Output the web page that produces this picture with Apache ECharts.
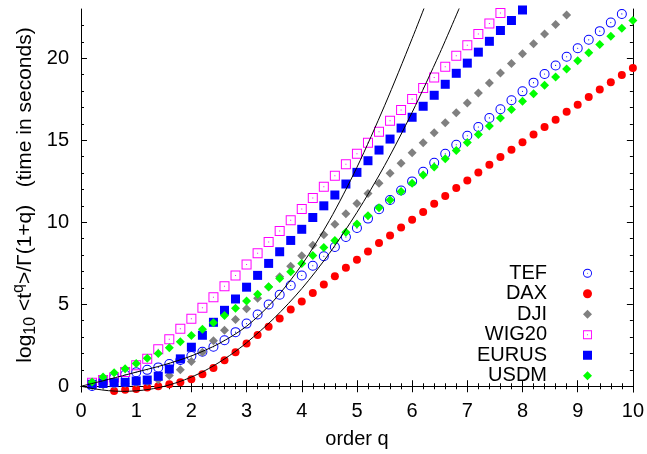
<!DOCTYPE html>
<html>
<head>
<meta charset="utf-8">
<script src="https://cdn.jsdelivr.net/npm/echarts@6/dist/echarts.min.js"></script>
<style>
  html, body { margin: 0; padding: 0; background: #fff; }
  #chart { width: 647px; height: 454px; }
</style>
</head>
<body>
<div id="chart"></div>
<script>
// order q (same grid for every index)
const Q = [0.2,0.4,0.6,0.8,1.0,1.2,1.4,1.6,1.8,2.0,
           2.2,2.4,2.6,2.8,3.0,3.2,3.4,3.6,3.8,4.0,
           4.2,4.4,4.6,4.8,5.0,5.2,5.4,5.6,5.8,6.0,
           6.2,6.4,6.6,6.8,7.0,7.2,7.4,7.6,7.8,8.0,
           8.2,8.4,8.6,8.8,9.0,9.2,9.4,9.6,9.8,10.0];

// log10 <t^q>/Gamma(1+q) per index; null = outside the plotted range
const TEF = [0.02,0.3,0.52,0.7,0.86,1.0,1.15,1.36,1.6,1.85,
             2.1,2.41,2.8,3.3,3.82,4.37,4.98,5.58,6.14,6.75,
             7.35,7.93,8.49,9.1,9.65,10.22,10.79,11.36,11.93,12.49,
             13.08,13.63,14.17,14.72,15.27,15.81,16.36,16.89,17.44,17.98,
             18.51,19.04,19.56,20.09,20.61,21.12,21.65,22.17,22.7,null];
const DAX = [null,null,-0.29,-0.22,-0.16,-0.08,0.0,0.12,0.24,0.43,
             0.73,1.11,1.58,2.07,2.6,3.12,3.63,4.13,4.68,5.16,
             5.69,6.2,6.7,7.23,7.72,8.21,8.74,9.19,9.68,10.15,
             10.63,11.12,11.6,12.09,12.55,13.03,13.5,13.97,14.42,14.88,
             15.35,15.81,16.25,16.73,17.17,17.64,18.09,18.53,18.97,19.4];
const DJI = [0.04,0.08,0.12,0.17,0.22,0.28,0.4,0.65,1.0,1.51,
             2.08,2.77,3.41,4.07,4.73,5.36,6.05,6.68,7.32,7.96,
             8.6,9.24,9.88,10.51,11.14,11.75,12.37,12.98,13.6,14.23,
             14.84,15.45,16.06,16.67,17.27,17.88,18.49,19.1,19.68,20.27,
             20.88,21.47,22.05,22.64,null,null,null,null,null,null];
const WIG20 = [0.22,0.38,0.53,0.87,1.28,1.68,2.25,2.86,3.5,4.11,
               4.78,5.43,6.09,6.76,7.43,8.11,8.79,9.46,10.12,10.81,
               11.48,12.17,12.84,13.53,14.17,14.84,15.51,16.18,16.85,17.52,
               18.18,18.83,19.48,20.15,20.79,21.47,22.11,22.76,null,null,
               null,null,null,null,null,null,null,null,null,null];
const EURUS = [0.12,0.17,0.22,0.24,0.32,0.38,0.61,1.05,1.67,2.38,
               3.11,3.9,4.63,5.32,6.04,6.76,7.49,8.2,8.89,9.57,
               10.29,11.0,11.66,12.33,13.04,13.75,14.4,15.07,15.74,16.4,
               17.07,17.74,18.41,19.08,19.7,20.37,21.03,21.69,22.3,22.94,
               null,null,null,null,null,null,null,null,null,null];
const USDM = [0.26,0.57,0.83,1.07,1.38,1.7,2.0,2.35,2.71,3.1,
              3.48,3.87,4.31,4.76,5.2,5.61,6.07,6.57,6.98,7.49,
              7.97,8.46,8.89,9.39,9.89,10.39,10.89,11.36,11.87,12.37,
              12.88,13.37,13.87,14.38,14.86,15.35,15.86,16.36,16.87,17.37,
              17.84,18.35,18.85,19.34,19.84,20.33,20.84,21.34,21.83,22.3];

// the two reference curves, sampled
const CURVE_LOW_Q = [0,0.25,0.5,0.75,1.0,1.25,1.5,1.75,2.0,2.25,2.5,2.75,3.0,3.5,4.0,4.5,5.0,5.5,6.0,6.5,7.0];
const CURVE_LOW_Y = [0,-0.16,-0.27,-0.31,-0.28,-0.18,-0.01,0.24,0.56,0.96,1.45,2.01,2.65,4.15,5.95,8.1,10.6,13.45,16.7,20.3,24.2];
const CURVE_HIGH_Q = [0,0.5,1.0,1.5,2.0,2.5,3.0,3.5,4.0,4.5,5.0,5.5,6.0,6.5];
const CURVE_HIGH_Y = [0,0.42,0.86,1.3,1.85,2.6,3.66,5.25,7.4,10.1,13.35,17.1,21.2,25.5];

// axis ticks
const X_MIN = 0, X_MAX = 10, X_STEP = 1;
const Y_MIN = -0.35, Y_MAX = 23;
const Y_TICKS = [0,5,10,15,20];
const Y_MINOR = [1,2,3,4,6,7,8,9,11,12,13,14,16,17,18,19,21,22];

const FONT = '"Liberation Sans", Arial, Helvetica, sans-serif';
// open circle / open square, each with a small centre dot
const RING = 'path://M10,0A10,10 0 1 1 10,20A10,10 0 1 1 10,0ZM10,2A8,8 0 1 0 10,18A8,8 0 1 0 10,2ZM10,8.9A1.1,1.1 0 1 1 10,11.1A1.1,1.1 0 1 1 10,8.9Z';
const BOX = 'path://M0,0H20V20H0ZM2,2V18H18V2ZM9,9H11V11H9Z';
// filled shapes as paths so legend icons keep their proportions
const SQUARE = 'path://M0,0H20V20H0Z';
const DIAMOND = 'path://M10,0L20,10L10,20L0,10Z';
const DOT = 'path://M10,0A10,10 0 1 1 10,20A10,10 0 1 1 10,0Z';

const pairs = (xs, ys) => xs.map((x, i) => [x, ys[i]]).filter(p => p[1] !== null);

function dots(name, ys, symbol, size, color) {
  return {
    name, type: 'scatter', data: pairs(Q, ys), symbol, symbolSize: size,
    itemStyle: { color, opacity: 1 }, clip: true
  };
}
function curve(xs, ys) {
  return {
    type: 'line', data: pairs(xs, ys), smooth: 0.3, showSymbol: false, silent: true,
    lineStyle: { color: '#000', width: 1 }, clip: true, z: 5
  };
}

const majorTick = { inside: true, length: 6, lineStyle: { color: '#000', width: 1 } };
const minorTick = { show: true, splitNumber: 5, length: 3, lineStyle: { color: '#000', width: 1 } };
const line = { show: true, lineStyle: { color: '#000', width: 1 } };
const labelStyle = { fontSize: 20, color: '#000', fontFamily: FONT };

function yAxis(position, values, len, withLabels, withLine) {
  return {
    type: 'value', min: Y_MIN, max: Y_MAX, position,
    axisLine: withLine ? line : { show: false },
    axisTick: { inside: true, length: len, customValues: values, lineStyle: { color: '#000', width: 1 } },
    axisLabel: withLabels ? Object.assign({ customValues: values, margin: 12 }, labelStyle) : { show: false },
    splitLine: { show: false }
  };
}

const option = {
  animation: false,
  backgroundColor: '#fff',
  grid: { left: 81, right: 11, top: 9, bottom: 61, containLabel: false },
  xAxis: [
    {
      type: 'value', min: X_MIN, max: X_MAX, interval: X_STEP, position: 'bottom',
      axisLine: line, axisTick: majorTick, minorTick,
      axisLabel: Object.assign({ margin: 9 }, labelStyle),
      splitLine: { show: false }, minorSplitLine: { show: false },
      name: 'order q', nameLocation: 'middle', nameGap: 37,
      nameTextStyle: { fontSize: 20, color: '#000', fontFamily: FONT }
    },
    {
      type: 'value', min: X_MIN, max: X_MAX, interval: X_STEP, position: 'top',
      axisLine: line, axisTick: majorTick, minorTick,
      axisLabel: { show: false }, splitLine: { show: false }, minorSplitLine: { show: false }
    }
  ],
  yAxis: [
    yAxis('left', Y_TICKS, 6, true, true),
    yAxis('left', Y_MINOR, 3, false, false),
    yAxis('right', Y_TICKS, 6, false, true),
    yAxis('right', Y_MINOR, 3, false, false)
  ],
  legend: {
    data: ['TEF', 'DAX', 'DJI', 'WIG20', 'EURUS', 'USDM'],
    orient: 'vertical', align: 'right', right: 55, top: 263, padding: 0,
    itemWidth: 9, itemHeight: 9, itemGap: 0,
    textStyle: { fontSize: 20, color: '#000', fontFamily: FONT, padding: [0, 31, 0, 0], lineHeight: 20.5 },
    selectedMode: false
  },
  graphic: [{
    type: 'text', x: 25, y: 195, rotation: Math.PI / 2,
    style: {
      text: '{b|log}{s|10}{b| <t}{p|q}{b|>/Γ(1+q)   (time in seconds)}',
      rich: {
        b: { fontSize: 21, fontFamily: FONT, lineHeight: 28, verticalAlign: 'middle', fill: '#000' },
        s: { fontSize: 16, fontFamily: FONT, verticalAlign: 'bottom', fill: '#000' },
        p: { fontSize: 16, fontFamily: FONT, verticalAlign: 'top', fill: '#000' }
      },
      align: 'center', verticalAlign: 'middle', fill: '#000'
    }
  }],
  series: [
    dots('TEF', TEF, RING, 10, '#0000ff'),
    dots('DAX', DAX, DOT, 8, '#ff0000'),
    dots('DJI', DJI, DIAMOND, 9, '#808080'),
    dots('WIG20', WIG20, BOX, 10, '#ff00ff'),
    dots('EURUS', EURUS, SQUARE, 9, '#0000ff'),
    dots('USDM', USDM, DIAMOND, 9, '#00ff00'),
    curve(CURVE_LOW_Q, CURVE_LOW_Y),
    curve(CURVE_HIGH_Q, CURVE_HIGH_Y)
  ]
};

const chart = echarts.init(document.getElementById('chart'), null, { renderer: 'canvas' });
chart.setOption(option);
</script>
</body>
</html>
